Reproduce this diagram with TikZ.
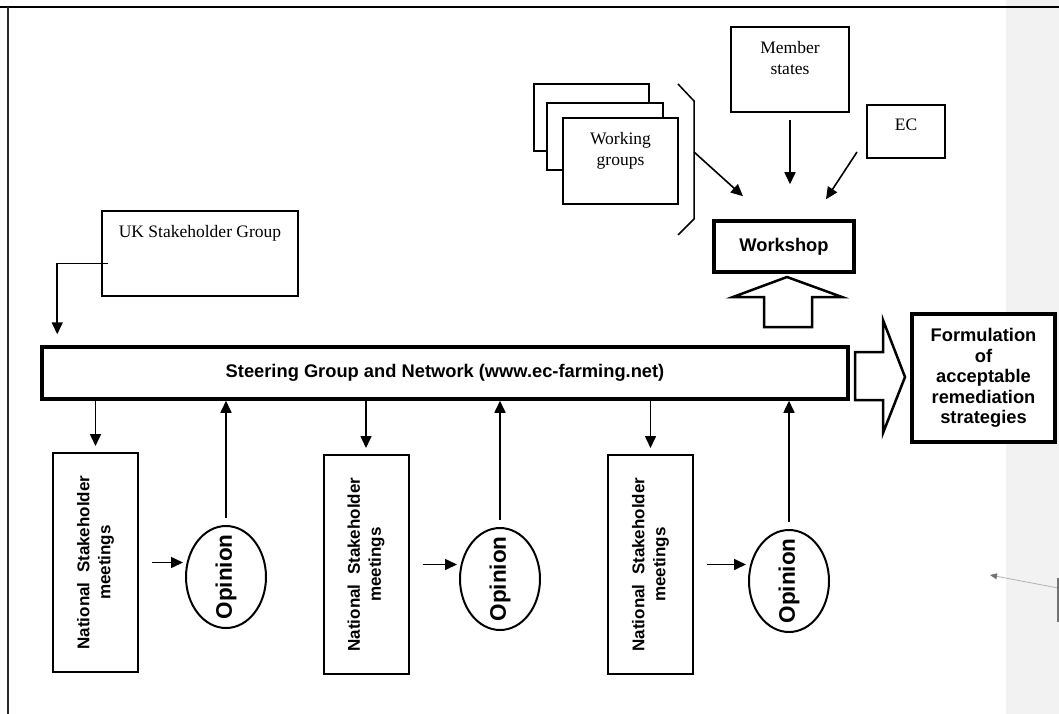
\documentclass[tikz,border=0pt]{standalone}
\usepackage{fontspec}
\setmainfont{Liberation Serif}
\setsansfont{Liberation Sans}
\usepackage{tikz}
\usetikzlibrary{arrows.meta,shapes.geometric}

\begin{document}
\begin{tikzpicture}[x=1pt, y=-1pt, >={Triangle[length=12pt,width=11pt]},
		thinbox/.style={draw, line width=2pt, fill=white, inner sep=0pt},
		thickbox/.style={draw, line width=3.5pt, fill=white, inner sep=0pt, align=center, font=\sffamily\bfseries\fontsize{18.3}{20.5}\selectfont},
		nsbox/.style={draw, line width=2pt, fill=white, rotate=90, minimum width=219pt, minimum height=85pt, inner sep=0pt, align=center, font=\sffamily\bfseries\fontsize{17}{21}\selectfont},
		opinion/.style={draw, ellipse, line width=2pt, fill=white, rotate=90, minimum width=102pt, minimum height=80pt, inner xsep=-14pt, inner ysep=0pt, font=\sffamily\bfseries\fontsize{22.5}{26}\selectfont},
		toptext/.style={label={[anchor=north, inner sep=0pt, yshift=-15pt, align=center, font=\fontsize{17.5}{21}\selectfont]north:#1}},
		conn/.style={->, line width=1.6pt},
		blockarrow/.style={draw, line width=2.5pt, fill=white, line join=miter}]
	\useasboundingbox (0,0) rectangle (1059,714);
	\fill[black!5] (1006,0) rectangle (1059,714);
	\draw[line width=2pt] (0,7) -- (1059,7);
	\draw[line width=1.3pt, black!85] (8,7) -- (8,714);

	\node[thinbox, minimum width=118pt, minimum height=85pt, toptext={Member\\states}] (member) at (790,69.5) {};
	\node[thinbox, minimum width=78pt, minimum height=53pt, toptext=EC] (ec) at (906,131.5) {};
	\node[thinbox, minimum width=115pt, minimum height=67pt] (wgback) at (591.5,117.5) {};
	\node[thinbox, minimum width=116pt, minimum height=67pt] (wgmid) at (605,136.5) {};
	\node[thinbox, minimum width=115pt, minimum height=86pt, toptext={Working\\groups}] (wgfront) at (620.5,161) {};
	\draw[line width=1.5pt] (678,84) -- (694,101) -- (694,219) -- (678,235);
	\coordinate (wgout) at (694,152);

	\node[thickbox, minimum width=140pt, minimum height=51pt] (workshop) at (784,246.5) {Workshop};
	\node[thickbox, minimum width=806pt, minimum height=52pt] (bar) at (445,373) {Steering Group and Network (www.ec-farming.net)};
	\node[thickbox, minimum width=143pt, minimum height=128pt] (form) at (983.5,378) {Formulation\\of\\acceptable\\remediation\\strategies};
	\node[thinbox, minimum width=196pt, minimum height=85pt, toptext={UK Stakeholder Group}] (uk) at (200,253.5) {};

	\draw[conn] (wgout) -- ([shift={(-41,-23)}]workshop.north);
	\draw[conn, shorten <=7pt] (member.south) -- ([shift={(6,-35)}]workshop.north);
	\draw[conn] ([shift={(-9,-7)}]ec.south west) -- ([shift={(42,-20)}]workshop.north);
	\draw[conn] ([shift={(7,10)}]uk.west) -| ([shift={(17,-11)}]bar.north west);

	\draw[blockarrow] (764,327) -- (764,297) -- (733,297) -- (787,277) -- (842,297) -- (812,297) -- (812,327) -- cycle;
	\draw[blockarrow] (855,352) -- (883,352) -- (883,320) -- (905,377) -- (883,433) -- (883,400) -- (855,400) -- cycle;

	\foreach \i/\nx/\ny/\ox/\oy in {1/95.5/562.5/226/577, 2/366/564.5/500/579, 3/650.5/564.5/789/581} {
		\node[nsbox] (ns\i) at (\nx,\ny) {National~~Stakeholder\\meetings};
		\node[opinion] (op\i) at (\ox,\oy) {Opinion};
		\draw[conn, shorten >=6pt] (bar.south -| ns\i.east) -- (ns\i.east);
		\draw[conn, shorten <=13pt, shorten >=2pt] (ns\i.south) -- (ns\i.south -| op\i.north);
		\draw[conn, shorten <=7pt] (op\i.east) -- (op\i.east |- bar.south);
	}

	\coordinate (cmtstart) at (1058,588);
	\coordinate (cmtend) at (990,575);
	\draw[black!30, line width=0.8pt, -{Triangle[length=7pt,width=6pt,color=black!55]}] (cmtstart) -- (cmtend);
	\draw[black!55, line width=2.5pt] (1058,578) -- (1058,622);
\end{tikzpicture}
\end{document}
